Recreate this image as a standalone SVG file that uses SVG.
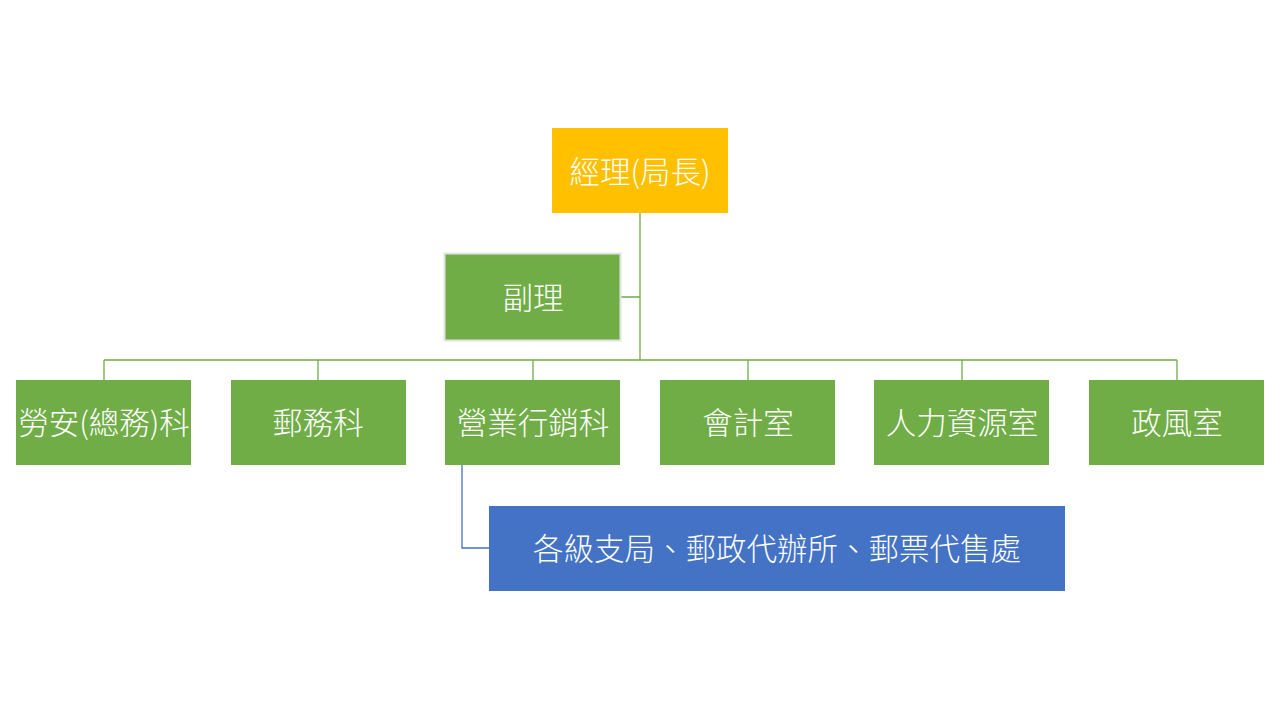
<svg xmlns="http://www.w3.org/2000/svg" width="1280" height="720" viewBox="0 0 1280 720">
<style>
.g{fill:#70AD47}
.t{fill:#fff;font-family:"Noto Sans CJK TC","Noto Sans CJK SC",sans-serif;font-size:30.5px;font-weight:300;text-anchor:middle;dominant-baseline:central}
.c{fill:none;stroke:#70AD47;stroke-width:1.3}
.cb{fill:none;stroke:#4472C4;stroke-width:1.3}
</style>
<rect width="1280" height="720" fill="#fff"/>
<g id="connectors">
<path class="c" d="M640 213V360M621 297H640M104 360H1177M104 360V380M318 360V380M533 360V380M748 360V380M962 360V380M1177 360V380"/>
<path class="cb" d="M462 465V548H489"/>
</g>
<g id="manager"><rect x="552" y="128" width="176" height="85" fill="#FFC000"/><text class="t" x="640" y="170">經理(局長)</text></g>
<g id="deputy"><rect x="444.5" y="253.5" width="176" height="87" class="g" stroke="#E2E2E2" stroke-width="2"/><text class="t" x="533" y="296">副理</text></g>
<g id="n1"><rect x="16" y="380" width="175" height="85" class="g"/><text class="t" x="104" y="421">勞安(總務)科</text></g>
<g id="n2"><rect x="231" y="380" width="175" height="85" class="g"/><text class="t" x="318" y="421">郵務科</text></g>
<g id="n3"><rect x="445" y="380" width="175" height="85" class="g"/><text class="t" x="533" y="421">營業行銷科</text></g>
<g id="n4"><rect x="660" y="380" width="175" height="85" class="g"/><text class="t" x="748" y="421">會計室</text></g>
<g id="n5"><rect x="874" y="380" width="175" height="85" class="g"/><text class="t" x="962" y="421">人力資源室</text></g>
<g id="n6"><rect x="1089" y="380" width="175" height="85" class="g"/><text class="t" x="1177" y="421">政風室</text></g>
<g id="branches"><rect x="489" y="506" width="576" height="85" fill="#4472C4"/><text class="t" x="777" y="547">各級支局、郵政代辦所、郵票代售處</text></g>
</svg>
